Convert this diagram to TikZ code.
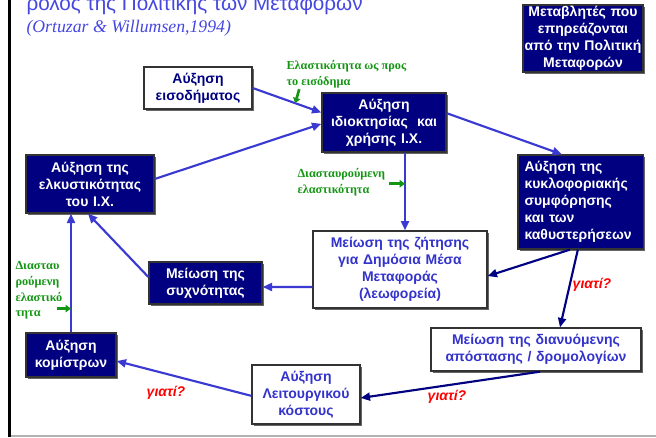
\documentclass[tikz,border=0pt]{standalone}
\usepackage{fontspec}
\setmainfont{Liberation Sans}
\newfontfamily\timesgr{Liberation Serif}
\usepackage{xcolor}
\usetikzlibrary{positioning, arrows.meta, shadows}
\definecolor{navybox}{RGB}{0,0,128}
\definecolor{arrowblue}{RGB}{58,58,210}
\definecolor{textblue}{RGB}{51,51,204}
\definecolor{titleblue}{RGB}{70,70,225}
\definecolor{elgreen}{RGB}{20,150,20}

\begin{document}
\begin{tikzpicture}[x=0.75pt, y=-0.75pt, thick,
  every node/.style={font=\bfseries\fontsize{10.5}{12.75}\selectfont, align=center, inner xsep=0pt, inner ysep=0pt},
  boxdim/.style 2 args={minimum width=#1, text width=#1, minimum height=#2},
  darkbox/.style={draw=black!80, fill=navybox, text=white, line width=1pt,
    drop shadow={shadow xshift=1.5pt, shadow yshift=-1.5pt, fill=black!60, opacity=1}},
  lightbox/.style={darkbox, fill=white, text=textblue},
  flow/.style={-{Triangle[length=7pt,width=6pt]}, color=arrowblue, line width=1.6pt},
  flowdark/.style={flow, color=navybox},
  why/.style={text=red, font=\bfseries\itshape\fontsize{10.5}{12}\selectfont},
  elnote/.style={text=elgreen, align=left, font=\timesgr\bfseries\fontsize{9.2}{11.8}\selectfont},
  elarrow/.style={-{Triangle[length=4pt,width=5.5pt]}, color=elgreen, line width=2pt}]
  \useasboundingbox (0,0) rectangle (656,437);
  \draw[line width=2.25pt] (9.5,0) -- (9.5,437);
  \draw[black!30, line width=1.2pt] (11,436) -- (656,436);

  \node (title) [anchor=base west, text=titleblue, font=\fontsize{15.5}{18}\selectfont] at (26,10) {ρολος της Πολιτικής των Μεταφορών};
  \node (cite) [anchor=base west, text=titleblue, font=\timesgr\itshape\fontsize{13.3}{15}\selectfont] at (26,32) {(Ortuzar \& Willumsen,1994)};

  \node (vars) [darkbox, boxdim={90pt}{50.25pt}] at (583,38.5) {Μεταβλητές που\\επηρεάζονται\\από την Πολιτική\\Μεταφορών};
  \node (inc) [lightbox, text=navybox, boxdim={81pt}{31.5pt}] at (198,88) {Αύξηση\\εισοδήματος};
  \node (own) [darkbox, boxdim={93pt}{44.25pt}] at (384,122.5) {Αύξηση\\ιδιοκτησίας~ και\\χρήσης Ι.Χ.};
  \node (attr) [darkbox, boxdim={96pt}{43.5pt}] at (90,184) {Αύξηση της\\ελκυστικότητας\\του Ι.Χ.};
  \node (cong) [darkbox, align=left, inner xsep=5pt, minimum width=94pt, text width=84pt, minimum height=70.5pt] at (580.5,202) {Αύξηση της\\κυκλοφοριακής\\συμφόρησης\\και των\\καθυστερήσεων};
  \node (dem) [lightbox, boxdim={130.5pt}{57.75pt}] at (400,269.5) {Μείωση της ζήτησης\\για Δημόσια Μέσα\\Μεταφοράς\\(λεωφορεία)};
  \node (freq) [darkbox, boxdim={84.75pt}{31.5pt}] at (205.5,283) {Μείωση της\\συχνότητας};
  \node (dist) [lightbox, boxdim={157.5pt}{32.25pt}] at (536,349.5) {Μείωση της διανυόμενης\\απόστασης / δρομολογίων};
  \node (cost) [lightbox, boxdim={81pt}{44.25pt}] at (306,394.5) {Αύξηση\\Λειτουργικού\\κόστους};
  \node (fare) [darkbox, boxdim={67.5pt}{33pt}] at (71,355) {Αύξηση\\κομίστρων};

  \draw[flow] (inc.east) -- coordinate[pos=.62] (incpt) ([yshift=7.5pt]own.west);
  \draw[flow] ([yshift=3.75pt]attr.east) -- ([yshift=-1pt]own.west);
  \draw[flow] ([yshift=7pt]own.east) -- ([xshift=-14pt]cong.north);
  \draw[flow] ([xshift=15.75pt]own.south) -- coordinate[pos=.4] (ownpt) ([xshift=3.75pt]dem.north);
  \draw[flowdark] ([xshift=-8pt]cong.south) -- ([yshift=-4.9pt]dem.east);
  \draw[flowdark] ([xshift=-2pt]cong.south) -- ([xshift=18pt]dist.north);
  \draw[flow] ([yshift=-13.1pt]dem.west) -- ([yshift=-3pt]freq.east);
  \draw[flow] ([yshift=4.5pt]freq.west) -- ([xshift=-1.5pt]attr.south);
  \draw[flow] (fare.north) -- coordinate[pos=.2] (farept) (fare.north |- attr.south);
  \draw[flow] ([yshift=-1pt]cost.west) -- ([yshift=-4.5pt]fare.east);
  \draw[flowdark] ([xshift=3pt]dist.south) -- ([yshift=-2.6pt]cost.east);

  \node (why1) [why] at (592,285) {γιατί?};
  \node (why2) [why] at (166,393) {γιατί?};
  \node (why3) [why] at (447,397) {γιατί?};

  \node (incnote) [elnote, anchor=north west] at (286,60) {Ελαστικότητα ως προς\\το εισόδημα};
  \node (crossnote) [elnote, anchor=north west] at (297,168) {Διασταυρούμενη\\ελαστικότητα};
  \node (farenote) [elnote, anchor=north west] at (15,261) {Διασταυ\\ρούμενη\\ελαστικό\\τητα};
  \draw[elarrow] ([xshift=3pt, yshift=10.5pt]incpt) -- (incpt);
  \draw[elarrow] ([xshift=-12pt]ownpt) -- (ownpt);
  \draw[elarrow] ([xshift=-10.5pt]farept) -- (farept);
\end{tikzpicture}
\end{document}
